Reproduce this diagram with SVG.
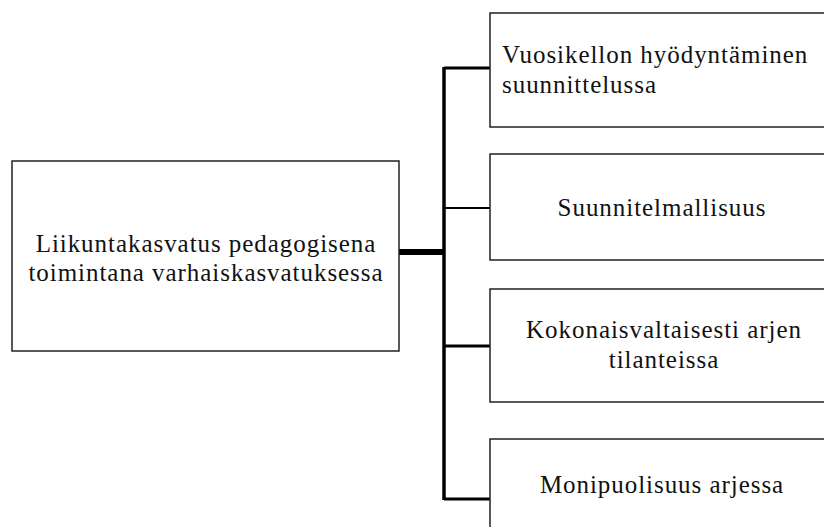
<svg xmlns="http://www.w3.org/2000/svg" width="824" height="527" viewBox="0 0 824 527">
<style>
.box{fill:#fff;stroke:#222;stroke-width:1.5}
.t{font-family:"Liberation Serif","DejaVu Serif",serif;font-size:25px;letter-spacing:0.95px;fill:#111}
.c{text-anchor:middle}
.ln{stroke:#000;fill:none}
</style>
<rect width="824" height="527" fill="#fff"/>
<g id="connectors">
<line class="ln" x1="399" y1="252" x2="445" y2="252" stroke-width="6"/>
<line class="ln" x1="444" y1="67" x2="444" y2="500" stroke-width="3.5"/>
<line class="ln" x1="444" y1="68" x2="491" y2="68" stroke-width="3"/>
<line class="ln" x1="444" y1="208" x2="491" y2="208" stroke-width="2.2"/>
<line class="ln" x1="444" y1="346" x2="491" y2="346" stroke-width="3"/>
<line class="ln" x1="444" y1="499" x2="491" y2="499" stroke-width="3"/>
</g>
<g id="root">
<rect class="box" x="12" y="161" width="387" height="190"/>
<text class="t c" x="206" y="251.5">Liikuntakasvatus pedagogisena</text>
<text class="t c" x="206" y="281">toimintana varhaiskasvatuksessa</text>
</g>
<g id="n1">
<rect class="box" x="490" y="13" width="350" height="114"/>
<text class="t" x="502" y="63">Vuosikellon hyödyntäminen</text>
<text class="t" x="502" y="93">suunnittelussa</text>
</g>
<g id="n2">
<rect class="box" x="490" y="154" width="350" height="106"/>
<text class="t c" x="662" y="216">Suunnitelmallisuus</text>
</g>
<g id="n3">
<rect class="box" x="490" y="289" width="350" height="113"/>
<text class="t c" x="664" y="338">Kokonaisvaltaisesti arjen</text>
<text class="t c" x="664" y="368">tilanteissa</text>
</g>
<g id="n4">
<rect class="box" x="490" y="439" width="350" height="120"/>
<text class="t c" x="662" y="493">Monipuolisuus arjessa</text>
</g>
</svg>
